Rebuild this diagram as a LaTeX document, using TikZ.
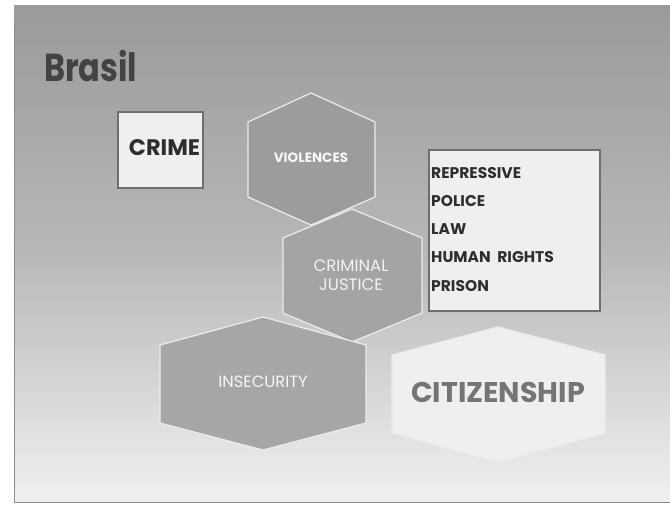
\documentclass[tikz,border=0pt]{standalone}
\usepackage{fontspec}
\setmainfont{Poppins}
\usetikzlibrary{calc}
\definecolor{bgtop}{HTML}{9A9A9A}
\definecolor{bgmid}{HTML}{B8B8B8}
\definecolor{bgbot}{HTML}{F0F0F0}
\definecolor{darktxt}{HTML}{2E2E2E}
\definecolor{boxfill}{HTML}{EFEFEF}
\definecolor{boxline}{HTML}{6E6E6E}
\definecolor{hexline}{HTML}{ECECEC}
\tikzset{
  hexdark/.style={fill=#1, draw=hexline, line width=1.2pt, line join=miter},
  whitebox/.style={fill=boxfill, draw=boxline, line width=1.2pt},
  lighttxt/.style={text=#1, inner sep=0pt, align=center},
}
\begin{document}
\begin{tikzpicture}[x=1pt,y=-1pt]
\useasboundingbox (0,0) rectangle (670,507);
\fill[white] (0,0) rectangle (670,507);
\shade[top color=bgtop, bottom color=bgbot, middle color=bgmid] (14,5) rectangle (670,502);
\draw[boxline!80, line width=1pt] (14,22) -- (14,502) -- (670,502);

\node[anchor=west, text=darktxt!90, font=\fontsize{39}{39}\selectfont\bfseries, inner sep=0pt] (title) at (44,66) {\scalebox{0.82}[1]{Brasil}};

% CRIME box
\draw[whitebox] (118,112) rectangle (203,188);
\node[text=darktxt, font=\fontsize{22.5}{22.5}\selectfont\bfseries, inner sep=0pt] (crime) at (164.5,148) {CRIME};

% VIOLENCES hexagon
\draw[hexdark={gray!78}] (311,93) -- (375,122) -- (375,197) -- (311,225) -- (248,197) -- (248,122) -- cycle;
\node[lighttxt={white!94!gray}, font=\fontsize{13.5}{13.5}\selectfont\bfseries] (viol) at (311,158) {VIOLENCES};

% CRIMINAL JUSTICE hexagon
\draw[hexdark={gray!71}] (352,209) -- (422,238) -- (422,313) -- (352,342) -- (283,313) -- (283,238) -- cycle;
\node[lighttxt={white!90!gray}, font=\fontsize{16.5}{19.5}\selectfont] (cj) at (351,275) {CRIMINAL\\JUSTICE};

% list box
\draw[whitebox] (429,150) rectangle (600,311);
\node[anchor=north west, text=darktxt, font=\fontsize{15.5}{28.2}\selectfont\bfseries, align=left, inner sep=0pt] (list) at (431,167) {REPRESSIVE\\POLICE\\LAW\\HUMAN\ \ RIGHTS\\PRISON};

% INSECURITY hexagon
\draw[hexdark={gray!70}] (263,317) -- (366,345) -- (366,423) -- (263,450) -- (160,423) -- (160,345) -- cycle;
\node[lighttxt={white!92!gray}, font=\fontsize{16.3}{16.3}\selectfont] (insec) at (263,382) {INSECURITY};

% CITIZENSHIP hexagon
\draw[fill=boxfill, draw=hexline, line width=1.2pt] (498,327) -- (605,355) -- (605,433) -- (498,462) -- (392,433) -- (392,355) -- cycle;
\node[lighttxt={black!54}, font=\fontsize{28.5}{28.5}\selectfont\bfseries] (citiz) at (498,392) {CITIZENSHIP};
\end{tikzpicture}
\end{document}
